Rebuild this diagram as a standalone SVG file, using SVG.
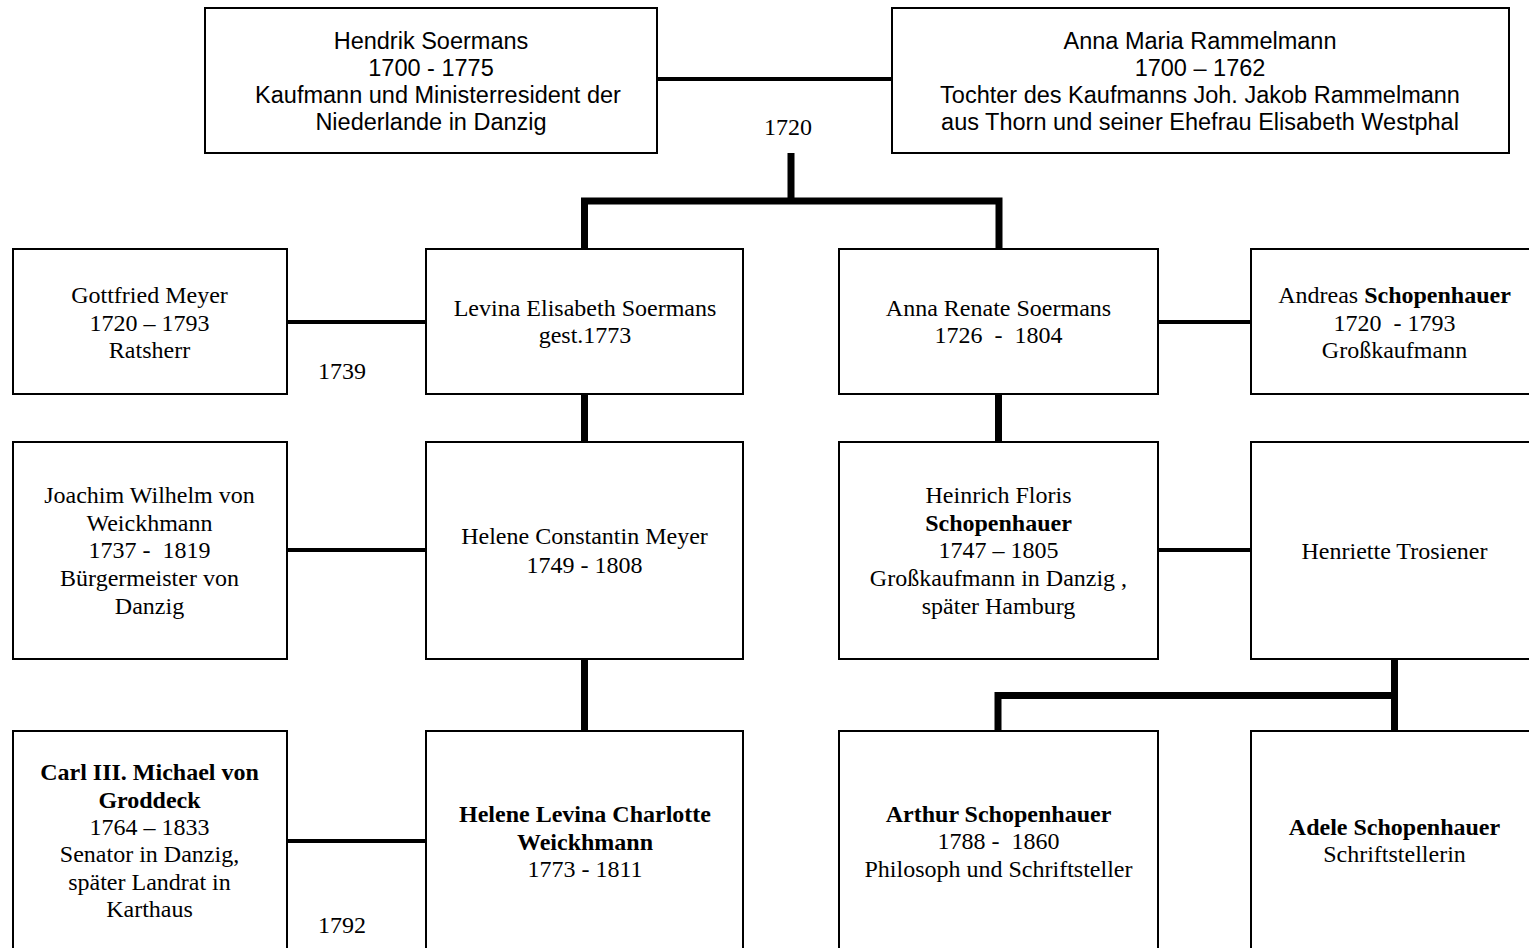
<svg xmlns="http://www.w3.org/2000/svg" width="1529" height="948" viewBox="0 0 1529 948">
<style>
.box{fill:#fff;stroke:#000;stroke-width:2}
.thin{stroke:#000;stroke-width:4;fill:none}
.thick{stroke:#000;stroke-width:7;fill:none}
.sans{font-family:"Liberation Sans",Arial,sans-serif;font-size:23.5px;text-anchor:middle;fill:#000}
.serif{font-family:"Liberation Serif","Times New Roman",serif;font-size:24px;text-anchor:middle;fill:#000}
.b{font-weight:bold}
</style>
<rect width="1529" height="948" fill="#fff"/>
<g id="connectors">
<line class="thin" x1="657" y1="79" x2="892" y2="79"/>
<path class="thick" d="M791,153 V201 M584.5,249 V201 H999 V249"/>
<line class="thin" x1="287" y1="322" x2="426" y2="322"/>
<line class="thin" x1="1158" y1="322" x2="1251" y2="322"/>
<line class="thick" x1="584.5" y1="394" x2="584.5" y2="442"/>
<line class="thick" x1="998.5" y1="394" x2="998.5" y2="442"/>
<line class="thin" x1="287" y1="550" x2="426" y2="550"/>
<line class="thin" x1="1158" y1="550" x2="1251" y2="550"/>
<line class="thick" x1="584.5" y1="659" x2="584.5" y2="731"/>
<path class="thick" d="M1394.5,659 V731 M998,731 V695.5 H1394.5"/>
<line class="thin" x1="287" y1="841" x2="426" y2="841"/>
</g>
<g id="hendrik">
<rect class="box" x="205" y="8" width="452" height="145"/>
<text class="sans" x="431" y="49">Hendrik Soermans</text>
<text class="sans" x="431" y="76">1700 - 1775</text>
<text class="sans" x="438" y="103">Kaufmann und Ministerresident der</text>
<text class="sans" x="431" y="130">Niederlande in Danzig</text>
</g>
<g id="annamaria">
<rect class="box" x="892" y="8" width="617" height="145"/>
<text class="sans" x="1200" y="49">Anna Maria Rammelmann</text>
<text class="sans" x="1200" y="76">1700 – 1762</text>
<text class="sans" x="1200" y="103">Tochter des Kaufmanns Joh. Jakob Rammelmann</text>
<text class="sans" x="1200" y="130">aus Thorn und seiner Ehefrau Elisabeth Westphal</text>
</g>
<text class="serif" x="788" y="135">1720</text>
<g id="gottfried">
<rect class="box" x="13" y="249" width="274" height="145"/>
<text class="serif" x="149.5" y="303">Gottfried Meyer</text>
<text class="serif" x="149.5" y="331">1720 – 1793</text>
<text class="serif" x="149.5" y="358">Ratsherr</text>
</g>
<text class="serif" x="342" y="379">1739</text>
<g id="levina">
<rect class="box" x="426" y="249" width="317" height="145"/>
<text class="serif" x="585" y="316">Levina Elisabeth Soermans</text>
<text class="serif" x="585" y="343">gest.1773</text>
</g>
<g id="annarenate">
<rect class="box" x="839" y="249" width="319" height="145"/>
<text class="serif" x="998.5" y="316">Anna Renate Soermans</text>
<text class="serif" x="998.5" y="343" xml:space="preserve">1726  -  1804</text>
</g>
<g id="andreas">
<rect class="box" x="1251" y="249" width="290" height="145"/>
<text class="serif" x="1394.5" y="303">Andreas <tspan class="b">Schopenhauer</tspan></text>
<text class="serif" x="1394.5" y="331" xml:space="preserve">1720  - 1793</text>
<text class="serif" x="1394.5" y="358">Großkaufmann</text>
</g>
<g id="joachim">
<rect class="box" x="13" y="442" width="274" height="217"/>
<text class="serif" x="149.5" y="503">Joachim Wilhelm von</text>
<text class="serif" x="149.5" y="531">Weickhmann</text>
<text class="serif" x="149.5" y="558" xml:space="preserve">1737 -  1819</text>
<text class="serif" x="149.5" y="586">Bürgermeister von</text>
<text class="serif" x="149.5" y="614">Danzig</text>
</g>
<g id="helenemeyer">
<rect class="box" x="426" y="442" width="317" height="217"/>
<text class="serif" x="584.5" y="544">Helene Constantin Meyer</text>
<text class="serif" x="584.5" y="573">1749 - 1808</text>
</g>
<g id="heinrich">
<rect class="box" x="839" y="442" width="319" height="217"/>
<text class="serif" x="998.5" y="503">Heinrich Floris</text>
<text class="serif b" x="998.5" y="531">Schopenhauer</text>
<text class="serif" x="998.5" y="558">1747 – 1805</text>
<text class="serif" x="998.5" y="586">Großkaufmann in Danzig ,</text>
<text class="serif" x="998.5" y="614">später Hamburg</text>
</g>
<g id="henriette">
<rect class="box" x="1251" y="442" width="290" height="217"/>
<text class="serif" x="1394.5" y="559">Henriette Trosiener</text>
</g>
<g id="carl">
<rect class="box" x="13" y="731" width="274" height="240"/>
<text class="serif b" x="149.5" y="780">Carl III. Michael von</text>
<text class="serif b" x="149.5" y="808">Groddeck</text>
<text class="serif" x="149.5" y="835">1764 – 1833</text>
<text class="serif" x="149.5" y="862">Senator in Danzig,</text>
<text class="serif" x="149.5" y="890">später Landrat in</text>
<text class="serif" x="149.5" y="917">Karthaus</text>
</g>
<text class="serif" x="342" y="933">1792</text>
<g id="helenelevina">
<rect class="box" x="426" y="731" width="317" height="240"/>
<text class="serif b" x="585" y="822">Helene Levina Charlotte</text>
<text class="serif b" x="585" y="850">Weickhmann</text>
<text class="serif" x="585" y="877">1773 - 1811</text>
</g>
<g id="arthur">
<rect class="box" x="839" y="731" width="319" height="240"/>
<text class="serif b" x="998.5" y="822">Arthur Schopenhauer</text>
<text class="serif" x="998.5" y="849" xml:space="preserve">1788 -  1860</text>
<text class="serif" x="998.5" y="877">Philosoph und Schriftsteller</text>
</g>
<g id="adele">
<rect class="box" x="1251" y="731" width="290" height="240"/>
<text class="serif b" x="1394.5" y="835">Adele Schopenhauer</text>
<text class="serif" x="1394.5" y="862">Schriftstellerin</text>
</g>
</svg>
